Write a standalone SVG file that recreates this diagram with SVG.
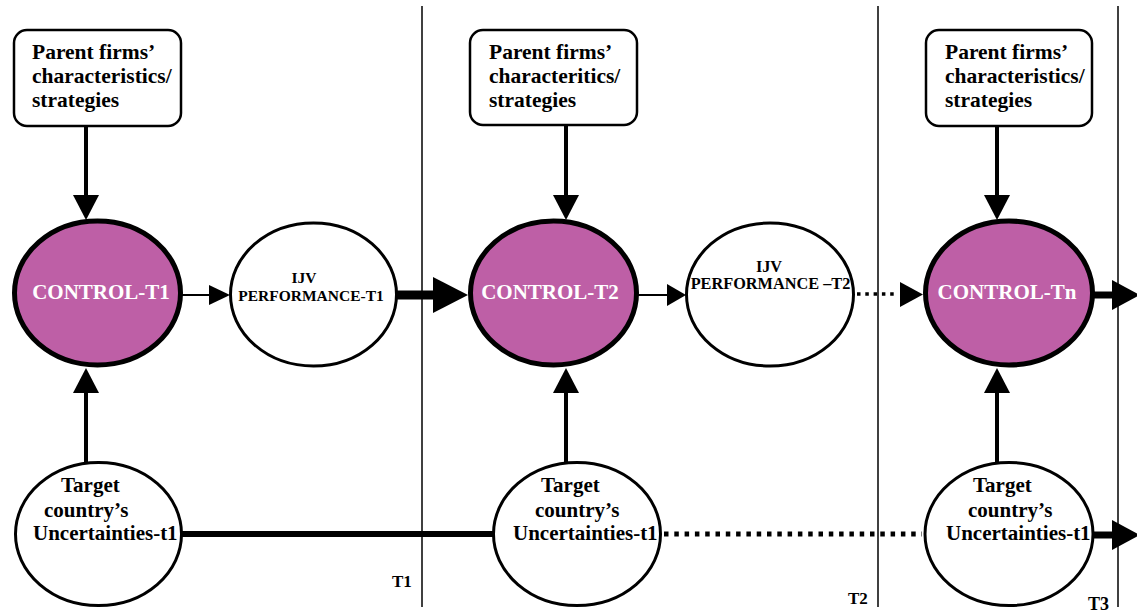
<svg xmlns="http://www.w3.org/2000/svg" width="1137" height="613" viewBox="0 0 1137 613">
  <style>
    .txt { font-family: "Liberation Serif", "Times New Roman", "DejaVu Serif", serif; font-weight: bold; fill: #000; }
    .box { fill: #fff; stroke: #000; stroke-width: 2.5; }
    .ctrl { fill: #BE5FA6; stroke: #000; stroke-width: 5; }
    .ijv { fill: #fff; stroke: #000; stroke-width: 3; }
    .tgt { fill: #fff; stroke: #000; stroke-width: 3; }
    .ctrl-label { font-family: "Liberation Serif", "Times New Roman", "DejaVu Serif", serif; font-weight: bold; fill: #fff; font-size: 21px; }
    .divider { stroke: #000; stroke-width: 1.5; }
    .line { stroke: #000; fill: none; }
    .head { fill: #000; }
  </style>

  <!-- time period dividers -->
  <g id="dividers">
    <line class="divider" x1="422" y1="6" x2="422" y2="607"/>
    <line class="divider" x1="878" y1="6" x2="878" y2="607"/>
    <line class="divider" x1="1118" y1="6" x2="1118" y2="607"/>
    <text class="txt" x="392" y="587" font-size="17">T1</text>
    <text class="txt" x="848" y="604" font-size="17">T2</text>
    <text class="txt" x="1088" y="610" font-size="18">T3</text>
  </g>

  <g id="connectors">
    <!-- parent firms to control -->
    <line class="line" x1="86" y1="127" x2="86" y2="197" stroke-width="4"/>
    <polygon class="head" points="73,195 99,195 86,220"/>
    <line class="line" x1="566" y1="126" x2="566" y2="197" stroke-width="4"/>
    <polygon class="head" points="553,195 579,195 566,220"/>
    <line class="line" x1="997" y1="127" x2="997" y2="197" stroke-width="4"/>
    <polygon class="head" points="984,195 1010,195 997,220"/>

    <!-- uncertainties to control -->
    <line class="line" x1="86" y1="462" x2="86" y2="391" stroke-width="4"/>
    <polygon class="head" points="73,393 99,393 86,368"/>
    <line class="line" x1="566" y1="462" x2="566" y2="391" stroke-width="4"/>
    <polygon class="head" points="553,393 579,393 566,368"/>
    <line class="line" x1="997" y1="462" x2="997" y2="391" stroke-width="4"/>
    <polygon class="head" points="984,393 1010,393 997,368"/>

    <!-- control / performance chain -->
    <line class="line" x1="182" y1="295" x2="211" y2="295" stroke-width="2"/>
    <polygon class="head" points="209,285 209,305 230,295"/>
    <line class="line" x1="396" y1="295" x2="435" y2="295" stroke-width="9"/>
    <polygon class="head" points="433,277 433,313 468,295"/>
    <line class="line" x1="638" y1="295" x2="669" y2="295" stroke-width="2"/>
    <polygon class="head" points="667,284 667,306 686,295"/>
    <line class="line" x1="857" y1="294" x2="898" y2="294" stroke-width="3.5" stroke-dasharray="3.5 4.8"/>
    <polygon class="head" points="900,282 900,307 923,294.5"/>
    <line class="line" x1="1094" y1="295" x2="1114" y2="295" stroke-width="7"/>
    <polygon class="head" points="1112,280 1112,310 1140,295"/>

    <!-- uncertainties chain -->
    <line class="line" x1="182" y1="534" x2="493" y2="534" stroke-width="6"/>
    <line class="line" x1="664" y1="534" x2="922" y2="534" stroke-width="5" stroke-dasharray="4.5 5.8"/>
    <line class="line" x1="1094" y1="535" x2="1114" y2="535" stroke-width="7"/>
    <polygon class="head" points="1112,520 1112,550 1140,535"/>
  </g>

  <!-- parent firm boxes -->
  <g id="parent-1">
    <rect class="box" x="14" y="30" width="167" height="96" rx="13"/>
    <text class="txt" font-size="21.5"><tspan x="32" y="59">Parent firms’</tspan><tspan x="32" y="83">characteristics/</tspan><tspan x="32" y="107">strategies</tspan></text>
  </g>
  <g id="parent-2">
    <rect class="box" x="470" y="30" width="167" height="95" rx="13"/>
    <text class="txt" font-size="21.5"><tspan x="489" y="59">Parent firms’</tspan><tspan x="489" y="83">characteritics/</tspan><tspan x="489" y="107">strategies</tspan></text>
  </g>
  <g id="parent-3">
    <rect class="box" x="926" y="30" width="166" height="96" rx="13"/>
    <text class="txt" font-size="21.5"><tspan x="945" y="59">Parent firms’</tspan><tspan x="945" y="83">characteristics/</tspan><tspan x="945" y="107">strategies</tspan></text>
  </g>

  <!-- control nodes -->
  <g id="control-t1">
    <ellipse class="ctrl" cx="97.5" cy="293" rx="83" ry="72"/>
    <text class="ctrl-label" x="101" y="299" text-anchor="middle">CONTROL-T1</text>
  </g>
  <g id="control-t2">
    <ellipse class="ctrl" cx="553.5" cy="293" rx="83" ry="72"/>
    <text class="ctrl-label" x="550" y="299" text-anchor="middle">CONTROL-T2</text>
  </g>
  <g id="control-tn">
    <ellipse class="ctrl" cx="1009" cy="293" rx="83.5" ry="72"/>
    <text class="ctrl-label" x="1007" y="299" text-anchor="middle">CONTROL-Tn</text>
  </g>

  <!-- performance nodes -->
  <g id="ijv-t1">
    <ellipse class="ijv" cx="313.5" cy="294.5" rx="83" ry="71.5"/>
    <text class="txt" font-size="15.5" text-anchor="middle"><tspan x="304" y="283">IJV</tspan><tspan x="311" y="301">PERFORMANCE-T1</tspan></text>
  </g>
  <g id="ijv-t2">
    <ellipse class="ijv" cx="770" cy="294.5" rx="83.5" ry="71.5"/>
    <text class="txt" font-size="16.3" text-anchor="middle"><tspan x="769" y="271.5">IJV</tspan><tspan x="770.5" y="289">PERFORMANCE –T2</tspan></text>
  </g>

  <!-- target country uncertainty nodes -->
  <g id="target-1">
    <ellipse class="tgt" cx="98.5" cy="534" rx="83" ry="71.5"/>
    <text class="txt" font-size="21"><tspan x="61" y="492">Target</tspan><tspan x="44" y="517">country’s</tspan><tspan x="33" y="540">Uncertainties-t1</tspan></text>
  </g>
  <g id="target-2">
    <ellipse class="tgt" cx="577" cy="534" rx="83.5" ry="71.5"/>
    <text class="txt" font-size="21"><tspan x="541" y="492">Target</tspan><tspan x="535" y="517">country’s</tspan><tspan x="513" y="540">Uncertainties-t1</tspan></text>
  </g>
  <g id="target-3">
    <ellipse class="tgt" cx="1009" cy="534" rx="84" ry="71.5"/>
    <text class="txt" font-size="21"><tspan x="973" y="492">Target</tspan><tspan x="968" y="517">country’s</tspan><tspan x="946" y="540">Uncertainties-t1</tspan></text>
  </g>
</svg>
